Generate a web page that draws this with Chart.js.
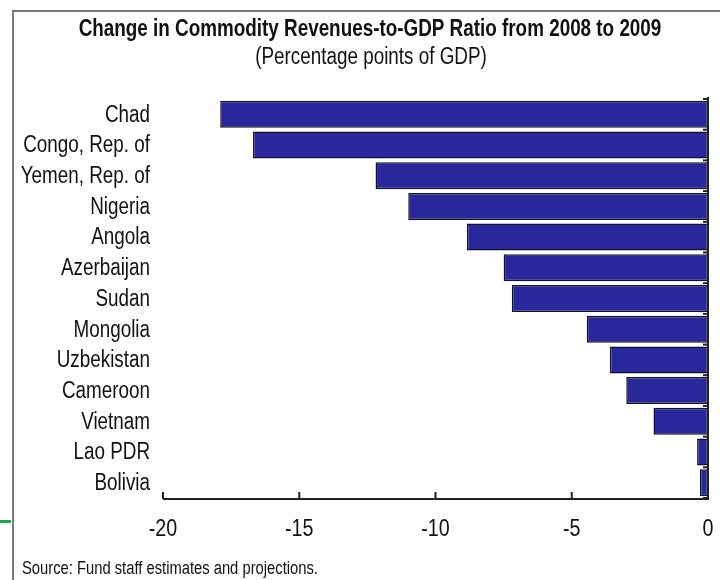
<!DOCTYPE html>
<html>
<head>
<meta charset="utf-8">
<script src="https://cdn.jsdelivr.net/npm/chart.js@4"></script>
<style>
  html, body { margin: 0; padding: 0; background: #fff; }
  #wrap { position: relative; width: 720px; height: 580px; overflow: hidden; }
  #frame { position: absolute; left: 12px; top: 10px; right: -4px; bottom: -4px;
           border-left: 2px solid #7a7a7a; border-top: 2px solid #7a7a7a; }
  #mark { position: absolute; left: 0; top: 520px; width: 11px; height: 3px; background: #1fa84a; }
  canvas { position: absolute; left: 0; top: 0; }
</style>
</head>
<body>
<div id="wrap">
  <div id="frame"></div>
  <div id="mark"></div>
  <canvas id="chart" width="720" height="580"></canvas>
</div>
<script>
// Chart data
const countries = ['Chad', 'Congo, Rep. of', 'Yemen, Rep. of', 'Nigeria', 'Angola', 'Azerbaijan',
  'Sudan', 'Mongolia', 'Uzbekistan', 'Cameroon', 'Vietnam', 'Lao PDR', 'Bolivia'];
const changes = [-17.9, -16.7, -12.2, -11.0, -8.85, -7.5, -7.2, -4.45, -3.6, -3.0, -2.0, -0.4, -0.3];
const xTicks = [-20, -15, -10, -5, 0];

const titleText = 'Change in Commodity Revenues-to-GDP Ratio from 2008 to 2009';
const subtitleText = '(Percentage points of GDP)';
const sourceText = 'Source: Fund staff estimates and projections.';

// no Arial Narrow here, so squeeze Liberation Sans horizontally
const SQUEEZE = 0.82;
const FAMILY = '"Liberation Sans", Arial, sans-serif';

function narrowText(ctx, text, x, y, align, font) {
  ctx.save();
  ctx.font = font;
  ctx.textBaseline = 'middle';
  ctx.textAlign = 'left';
  const w = ctx.measureText(text).width * SQUEEZE;
  let left = x;
  if (align === 'center') left = x - w / 2;
  if (align === 'right') left = x - w;
  ctx.translate(left, y);
  ctx.scale(SQUEEZE, 1);
  ctx.fillText(text, 0, 0);
  ctx.restore();
}

// Axes, ticks and all text
const axisMarks = {
  id: 'axisMarks',
  afterDraw(chart) {
    const ctx = chart.ctx;
    const x = chart.scales.x;
    const y = chart.scales.y;
    const area = chart.chartArea;
    const x0 = x.getPixelForValue(0);
    const axisY = area.bottom + 1;
    ctx.save();
    ctx.strokeStyle = '#222';
    ctx.fillStyle = '#111';
    ctx.lineWidth = 2;
    // bottom axis line
    ctx.beginPath();
    ctx.moveTo(x.getPixelForValue(-20), axisY);
    ctx.lineTo(x0 + 1, axisY);
    ctx.stroke();
    // tick marks pointing up
    xTicks.forEach(function (v) {
      const px = x.getPixelForValue(v);
      ctx.beginPath();
      ctx.moveTo(px, axisY);
      ctx.lineTo(px, axisY - 7);
      ctx.stroke();
      narrowText(ctx, String(v), px, axisY + 30, 'center', '24px ' + FAMILY);
    });
    // zero line
    ctx.beginPath();
    ctx.moveTo(x0, area.top - 2);
    ctx.lineTo(x0, axisY);
    ctx.stroke();
    // category boundary ticks on zero line
    for (let i = 0; i <= countries.length; i++) {
      const py = y.getPixelForValue(i - 0.5);
      ctx.beginPath();
      ctx.moveTo(x0 - 5, py);
      ctx.lineTo(x0, py);
      ctx.stroke();
    }
    // category labels
    countries.forEach(function (c, i) {
      narrowText(ctx, c, 150, y.getPixelForValue(i) + 1, 'right', '23px ' + FAMILY);
    });
    // title, subtitle, source
    narrowText(ctx, titleText, 370, 30, 'center', 'bold 23px ' + FAMILY);
    narrowText(ctx, subtitleText, 371, 58, 'center', '23px ' + FAMILY);
    narrowText(ctx, sourceText, 22, 569, 'left', '18px ' + FAMILY);
    ctx.restore();
  }
};

new Chart(document.getElementById('chart'), {
  type: 'bar',
  data: {
    labels: countries,
    datasets: [{
      data: changes,
      backgroundColor: '#28289c',
      borderColor: '#121228',
      borderWidth: 1.5,
      borderSkipped: false,
      barPercentage: 0.88,
      categoryPercentage: 1.0
    }]
  },
  options: {
    indexAxis: 'y',
    responsive: false,
    animation: false,
    layout: { padding: { top: 99, right: 12, bottom: 82, left: 163 } },
    plugins: {
      legend: { display: false },
      tooltip: { enabled: false }
    },
    scales: {
      x: { display: false, min: -20, max: 0 },
      y: { display: false }
    }
  },
  plugins: [axisMarks]
});
</script>
</body>
</html>
